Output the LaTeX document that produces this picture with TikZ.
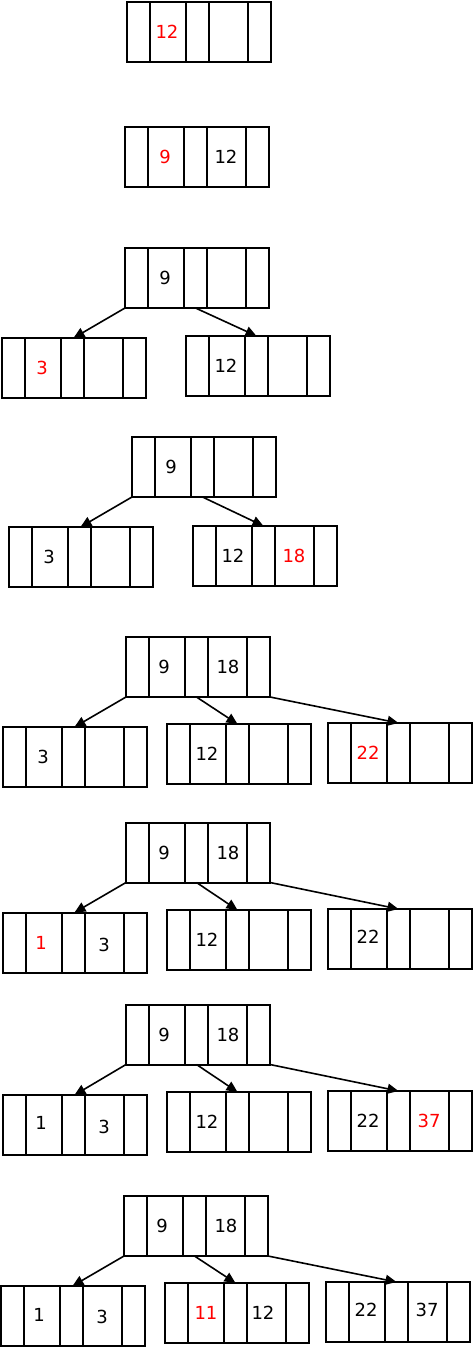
\documentclass[tikz,border=0pt]{standalone}
\usepackage{fontspec}
\setmainfont{DejaVu Sans}
\usetikzlibrary{arrows.meta}
\tikzset{
 bbox/.style={draw, line width=2pt, minimum width=144pt, minimum height=60pt, inner sep=0pt, outer sep=0pt, anchor=north west},
 divider/.style={line width=2pt},
 key/.style={font=\fontsize{18}{21}\selectfont, inner sep=0pt, text=black},
 newkey/.style={key, text=red},
 ptr/.style={line width=1.6pt, -{Triangle[length=11pt,width=10pt]}},
}
\newcommand\btreebox[3]{%
 \node[bbox] (#1) at (#2,#3) {};
 \foreach \dd in {23,59,82,121}{\draw[divider] ([xshift=\dd pt]#1.north west) -- ([xshift=\dd pt]#1.south west);}
}
\begin{document}
\begin{tikzpicture}[x=1pt,y=-1pt]
\useasboundingbox (0,0) rectangle (474,1349);
% 1
\btreebox{a0}{127}{1.5}
\node[newkey] (a0k1) at ([xshift=40pt]a0.west) {12};
% 2
\btreebox{b0}{125}{127}
\node[newkey] (b0k1) at ([xshift=40pt]b0.west) {9};
\node[key] (b0k2) at ([xshift=101pt]b0.west) {12};
% 3
\btreebox{c0}{125}{248}
\btreebox{c1}{2}{338}
\btreebox{c2}{186}{336}
\node[key] (c0k1) at ([xshift=40pt]c0.west) {9};
\node[newkey] (c1k1) at ([xshift=40pt]c1.west) {3};
\node[key] (c2k1) at ([xshift=40pt]c2.west) {12};
\draw[ptr] (c0.south west) -- ([xshift=71.5pt]c1.north west);
\draw[ptr] ([xshift=70.5pt]c0.south west) -- ([xshift=70.5pt]c2.north west);
% 4
\btreebox{d0}{132}{437}
\btreebox{d1}{9}{527}
\btreebox{d2}{193}{526}
\node[key] (d0k1) at ([xshift=39pt]d0.west) {9};
\node[key] (d1k1) at ([xshift=40pt]d1.west) {3};
\node[key] (d2k1) at ([xshift=40pt]d2.west) {12};
\node[newkey] (d2k2) at ([xshift=101pt]d2.west) {18};
\draw[ptr] (d0.south west) -- ([xshift=71.5pt]d1.north west);
\draw[ptr] ([xshift=70.5pt]d0.south west) -- ([xshift=70.5pt]d2.north west);
% 5
\btreebox{e0}{126}{637}
\btreebox{e1}{3}{727}
\btreebox{e2}{167}{724}
\btreebox{e3}{328}{723}
\node[key] (e0k1) at ([xshift=38pt]e0.west) {9};
\node[key] (e0k2) at ([xshift=102pt]e0.west) {18};
\node[key] (e1k1) at ([xshift=40pt]e1.west) {3};
\node[key] (e2k1) at ([xshift=40pt]e2.west) {12};
\node[newkey] (e3k1) at ([xshift=40pt]e3.west) {22};
\draw[ptr] (e0.south west) -- ([xshift=71.5pt]e1.north west);
\draw[ptr] ([xshift=70.5pt]e0.south west) -- ([xshift=70.5pt]e2.north west);
\draw[ptr] (e0.south east) -- ([xshift=70.5pt]e3.north west);
% 6
\btreebox{f0}{126}{822.5}
\btreebox{f1}{3}{912.5}
\btreebox{f2}{167}{910}
\btreebox{f3}{328}{909}
\node[key] (f0k1) at ([xshift=38pt]f0.west) {9};
\node[key] (f0k2) at ([xshift=102pt]f0.west) {18};
\node[newkey] (f1k1) at ([xshift=38pt]f1.west) {1};
\node[key] (f1k2) at ([xshift=101pt,yshift=-2pt]f1.west) {3};
\node[key] (f2k1) at ([xshift=40pt]f2.west) {12};
\node[key] (f3k1) at ([xshift=40pt,yshift=2pt]f3.west) {22};
\draw[ptr] (f0.south west) -- ([xshift=71.5pt]f1.north west);
\draw[ptr] ([xshift=70.5pt]f0.south west) -- ([xshift=70.5pt]f2.north west);
\draw[ptr] (f0.south east) -- ([xshift=70.5pt]f3.north west);
% 7
\btreebox{g0}{126}{1004.5}
\btreebox{g1}{3}{1095}
\btreebox{g2}{167}{1092}
\btreebox{g3}{328}{1091}
\node[key] (g0k1) at ([xshift=38pt]g0.west) {9};
\node[key] (g0k2) at ([xshift=102pt]g0.west) {18};
\node[key] (g1k1) at ([xshift=38pt,yshift=2pt]g1.west) {1};
\node[key] (g1k2) at ([xshift=101pt,yshift=-2pt]g1.west) {3};
\node[key] (g2k1) at ([xshift=40pt]g2.west) {12};
\node[key] (g3k1) at ([xshift=40pt]g3.west) {22};
\node[newkey] (g3k2) at ([xshift=101pt]g3.west) {37};
\draw[ptr] (g0.south west) -- ([xshift=71.5pt]g1.north west);
\draw[ptr] ([xshift=70.5pt]g0.south west) -- ([xshift=70.5pt]g2.north west);
\draw[ptr] (g0.south east) -- ([xshift=70.5pt]g3.north west);
% 8
\btreebox{h0}{124}{1196}
\btreebox{h1}{1}{1286}
\btreebox{h2}{165}{1283}
\btreebox{h3}{326}{1282}
\node[key] (h0k1) at ([xshift=38pt]h0.west) {9};
\node[key] (h0k2) at ([xshift=102pt]h0.west) {18};
\node[key] (h1k1) at ([xshift=38pt,yshift=1pt]h1.west) {1};
\node[key] (h1k2) at ([xshift=101pt,yshift=-1pt]h1.west) {3};
\node[newkey] (h2k1) at ([xshift=41pt]h2.west) {11};
\node[key] (h2k2) at ([xshift=98pt]h2.west) {12};
\node[key] (h3k1) at ([xshift=40pt,yshift=2pt]h3.west) {22};
\node[key] (h3k2) at ([xshift=101pt,yshift=2pt]h3.west) {37};
\draw[ptr] (h0.south west) -- ([xshift=71.5pt]h1.north west);
\draw[ptr] ([xshift=70.5pt]h0.south west) -- ([xshift=70.5pt]h2.north west);
\draw[ptr] (h0.south east) -- ([xshift=70.5pt]h3.north west);
\end{tikzpicture}
\end{document}
